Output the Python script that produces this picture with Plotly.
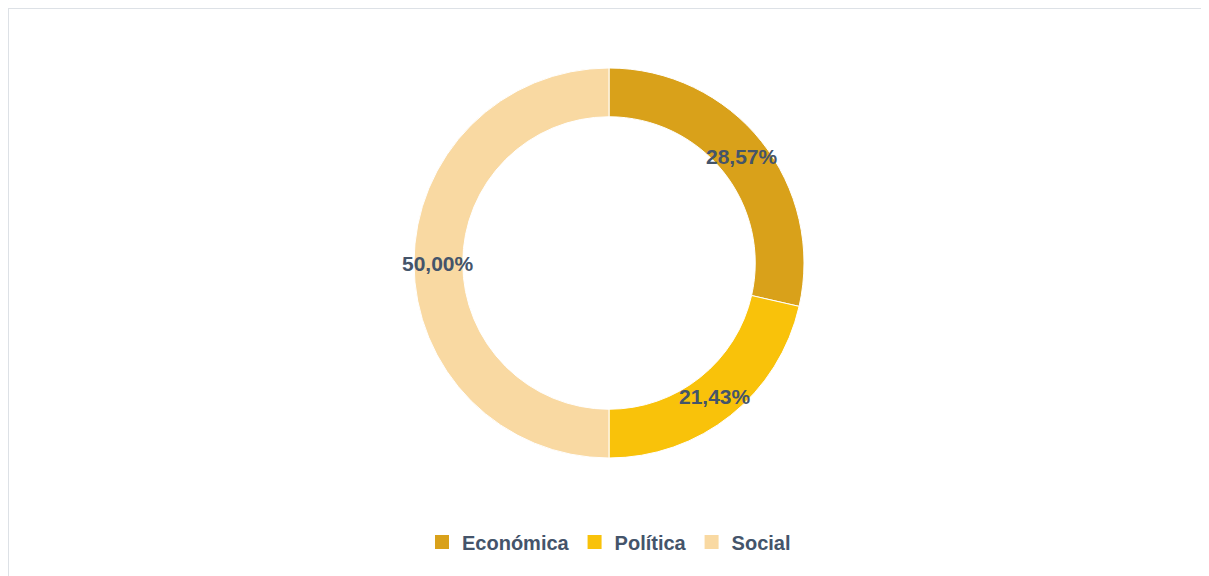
import math
import plotly.graph_objects as go

categories = ["Económica", "Política", "Social"]
values = [28.57, 21.43, 50.00]
text_labels = ["28,57%", "21,43%", "50,00%"]
colors = ["#D9A11A", "#F9C20A", "#F9D9A2"]

W, H = 1209, 576
off = 8  # page body margin
cx, cy, r = 609 - off, 263 - off, 195
hole = 0.75
r_text = r * (1 + hole) / 2

fig = go.Figure()
fig.add_trace(go.Pie(
    labels=categories,
    values=values,
    textinfo="none",
    hole=hole,
    sort=False,
    direction="clockwise",
    rotation=0,
    marker=dict(colors=colors, line=dict(color="white", width=1)),
    domain=dict(x=[0, 2 * cx / W], y=[1 - (cy + r) / H, 1 - (cy - r) / H]),
    hoverinfo="label+percent",
    showlegend=False,
))

# legend entries with larger square swatches
for name, col in zip(categories, colors):
    fig.add_trace(go.Scatter(
        x=[None], y=[None], mode="markers", name=name,
        marker=dict(symbol="square", size=14, color=col),
        hoverinfo="skip",
    ))

# data labels at each slice's mid-angle, ring middle
annotations = []
total = sum(values)
cum = 0.0
for v, t in zip(values, text_labels):
    mid = (cum + v / 2) / total * 2 * math.pi
    cum += v
    px = cx + r_text * math.sin(mid)
    py = cy - r_text * math.cos(mid)
    annotations.append(dict(
        x=px / W, y=1 - py / H, xref="paper", yref="paper",
        text="<b>" + t + "</b>", showarrow=False,
        xanchor="center", yanchor="middle",
        font=dict(family="Liberation Sans", size=21, color="#44546A"),
    ))

fig.update_layout(
    width=W, height=H,
    margin=dict(l=0, r=0, t=0, b=0),
    paper_bgcolor="white",
    plot_bgcolor="white",
    showlegend=True,
    xaxis=dict(visible=False),
    yaxis=dict(visible=False),
    annotations=annotations,
    legend=dict(
        orientation="h",
        x=cx / W, xanchor="center",
        y=1 - (542 - off) / H, yanchor="middle",
        font=dict(family="Liberation Sans", size=20, color="#44546A", weight="bold"),
        itemclick=False, itemdoubleclick=False,
    ),
    shapes=[dict(
        type="rect", xref="paper", yref="paper",
        x0=0, x1=1.02, y0=-0.05, y1=1,
        line=dict(color="#DDE1E6", width=2),
        fillcolor="rgba(0,0,0,0)",
    )],
)

fig.write_html("out.html")
